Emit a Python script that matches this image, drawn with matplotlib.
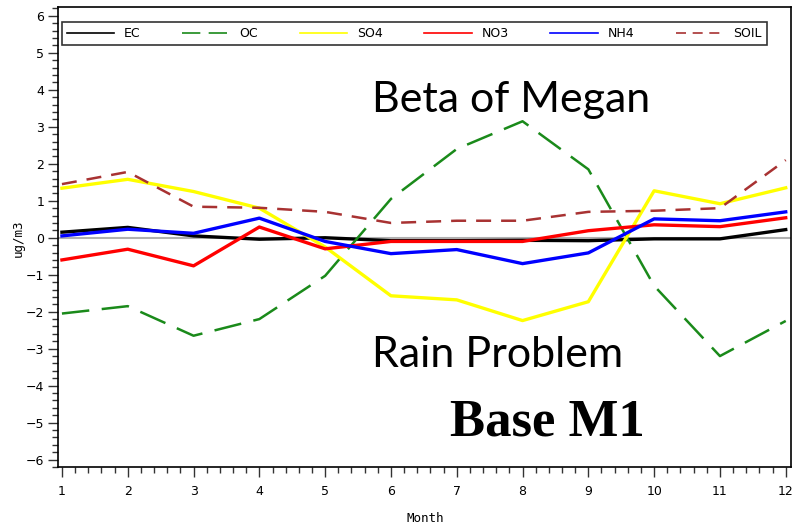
import matplotlib
matplotlib.use("Agg")
import matplotlib.pyplot as plt
from matplotlib.ticker import MultipleLocator, AutoMinorLocator

months = [1, 2, 3, 4, 5, 6, 7, 8, 9, 10, 11, 12]
ec = [0.15, 0.28, 0.05, -0.04, 0.0, -0.08, -0.08, -0.07, -0.08, -0.03, -0.03, 0.22]
oc = [-2.05, -1.85, -2.65, -2.2, -1.03, 1.05, 2.4, 3.15, 1.85, -1.3, -3.2, -2.25]
so4 = [1.34, 1.58, 1.25, 0.8, -0.25, -1.57, -1.68, -2.24, -1.73, 1.27, 0.92, 1.35]
no3 = [-0.6, -0.31, -0.76, 0.29, -0.3, -0.1, -0.1, -0.1, 0.19, 0.35, 0.3, 0.54]
nh4 = [0.05, 0.23, 0.12, 0.53, -0.1, -0.43, -0.32, -0.7, -0.41, 0.51, 0.46, 0.7]
soil = [1.45, 1.78, 0.84, 0.81, 0.7, 0.4, 0.46, 0.46, 0.7, 0.73, 0.8, 2.1]

fig = plt.figure(figsize=(7.92, 5.28), dpi=100)
ax = fig.add_axes([58 / 792, 1 - 467 / 528, 733 / 792, 460 / 528])

ax.axhline(0, color="#b0b0b0", lw=1.5, zorder=1)
ax.plot(months, ec, color="black", lw=2.4, label="EC", zorder=3)
ax.plot(months, oc, color="#1a8a1a", lw=1.8, dashes=(11, 5), label="OC", zorder=3)
ax.plot(months, so4, color="#ffff00", lw=2.4, label="SO4", zorder=3)
ax.plot(months, no3, color="#ff0000", lw=2.4, label="NO3", zorder=3)
ax.plot(months, nh4, color="#0000ff", lw=2.4, label="NH4", zorder=3)
ax.plot(months, soil, color="#a83232", lw=1.8, dashes=(6, 4), label="SOIL", zorder=3)

ax.set_xlim(0.94, 12.08)
ax.set_ylim(-6.2, 6.24)
ax.xaxis.set_major_locator(MultipleLocator(1))
ax.xaxis.set_minor_locator(AutoMinorLocator(5))
ax.yaxis.set_major_locator(MultipleLocator(1))
ax.yaxis.set_minor_locator(AutoMinorLocator(5))
ax.tick_params(which="major", direction="out", length=7, width=1, labelsize=9, color="#333333")
ax.tick_params(which="minor", direction="out", length=4, width=1, color="#333333")
ax.tick_params(axis="x", pad=6)
ax.tick_params(axis="y", pad=3)
for s in ax.spines.values():
    s.set_linewidth(1.2)

ax.set_ylabel("ug/m3", family="DejaVu Sans Mono", fontsize=9)
ax.set_xlabel("Month", family="DejaVu Sans Mono", fontsize=9)
ax.yaxis.set_label_coords(18 / 792, 1 - 238 / 528, transform=fig.transFigure)
ax.xaxis.set_label_coords(425 / 792, 1 - 518 / 528, transform=fig.transFigure)
ax.xaxis.label.set_va("center")
ax.yaxis.label.set_va("center")

leg = ax.legend(loc="lower left", bbox_to_anchor=(0.005, 0.917, 0.962, 0.068),
                mode="expand", ncol=6, fontsize=9, frameon=True, fancybox=False,
                edgecolor="black", handlelength=3.8, borderaxespad=0)
leg.get_frame().set_linewidth(1.2)
for l in leg.get_lines():
    l.set_linewidth(1.2)

ax.text(372 / 792, 1 - 112 / 528, "Beta of Megan", transform=fig.transFigure,
        family="Lato", fontsize=31, ha="left", va="baseline")
ax.text(372 / 792, 1 - 367 / 528, "Rain Problem", transform=fig.transFigure,
        family="Lato", fontsize=31, ha="left", va="baseline")
ax.text(450 / 792, 1 - 435 / 528, "Base M1", transform=fig.transFigure,
        family="Liberation Serif", fontweight="bold", fontsize=38, ha="left", va="baseline")

fig.savefig("out.png", dpi=100)
